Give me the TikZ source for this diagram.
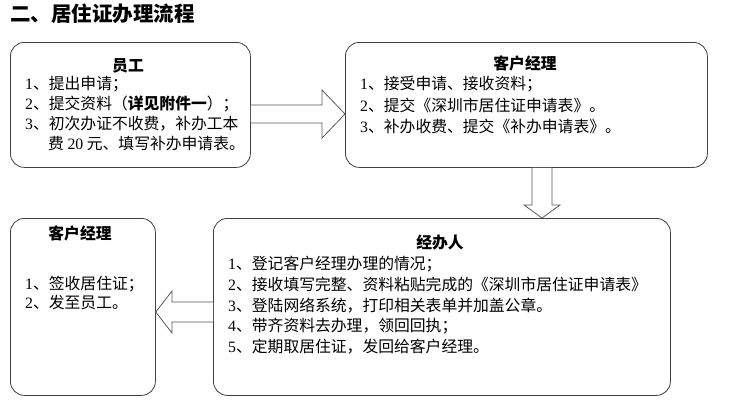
\documentclass[tikz,border=0pt]{standalone}
\usepackage{fontspec}
\setmainfont{Liberation Serif}
\newfontfamily\cjk{Noto Sans CJK SC}
\usetikzlibrary{calc}
\tikzset{
  box/.style={draw=black!75, line width=0.8pt, rounded corners=14pt},
  blockarrow/.style={draw=black!65, line width=0.8pt, fill=white, line join=miter},
  txt/.style={inner sep=0pt, anchor=base west, font=\fontsize{15.8}{18}\selectfont},
  head/.style={inner sep=0pt, anchor=base, font=\fontsize{15.8}{18}\selectfont\cjk\bfseries},
}
\begin{document}
\begin{tikzpicture}[x=1pt,y=-1pt]
\useasboundingbox (0,0) rectangle (736,413);
\node[inner sep=0pt, anchor=base west, font=\fontsize{20.5}{22}\selectfont\cjk\bfseries] (title) at (10,21) {二、居住证办理流程};
% boxes
\node[box, minimum width=240pt, minimum height=125pt, anchor=north west] (b1) at (10,42) {};
\node[box, minimum width=362pt, minimum height=125pt, anchor=north west] (b2) at (345,42) {};
\node[box, minimum width=457pt, minimum height=177pt, anchor=north west] (b3) at (213,218) {};
\node[box, minimum width=145pt, minimum height=177pt, anchor=north west] (b4) at (10,218) {};
% box 1 text
\node[head] (h1) at (128,71) {员工};
\node[txt] (l11) at (25,89) {1\cjk 、提出申请；};
\node[txt] (l12) at (25,109) {2\cjk 、提交资料（\textbf{详见附件一}）；};
\node[txt] (l13) at (25,129) {3\cjk 、初次办证不收费，补办工本};
\node[txt] (l14) at (48,149) {\cjk 费 {\rmfamily 20} 元、填写补办申请表。};
% box 2 text
\node[head] (h2) at (525,69) {客户经理};
\node[txt] (l21) at (360,89) {1\cjk 、接受申请、接收资料；};
\node[txt] (l22) at (360,111) {2\cjk 、提交《深圳市居住证申请表》。};
\node[txt] (l23) at (360,132) {3\cjk 、补办收费、提交《补办申请表》。};
% box 3 text
\node[head] (h3) at (440,248) {经办人};
\node[txt] (l31) at (228,269) {1\cjk 、登记客户经理办理的情况；};
\node[txt] (l32) at (228,290) {2\cjk 、接收填写完整、资料粘贴完成的《深圳市居住证申请表》};
\node[txt] (l33) at (228,311) {3\cjk 、登陆网络系统，打印相关表单并加盖公章。};
\node[txt] (l34) at (228,331) {4\cjk 、带齐资料去办理，领回回执；};
\node[txt] (l35) at (228,352) {5\cjk 、定期取居住证，发回给客户经理。};
% box 4 text
\node[head] (h4) at (80,239) {客户经理};
\node[txt] (l41) at (25,289) {1\cjk 、签收居住证；};
\node[txt] (l42) at (25,308) {2\cjk 、发至员工。};
% right arrow b1 -> b2
\draw[blockarrow] (b1.east |- 0,105) -- (322,105) -- (322,90) -- (b2.west |- 0,114) -- (322,138) -- (322,123) -- (b1.east |- 0,123);
% down arrow b2 -> b3
\draw[blockarrow] (b2.south -| 532,0) -- (532,205) -- (524,205) -- (b3.north -| 542,0) -- (560,205) -- (552,205) -- (b2.south -| 552,0);
% left arrow b3 -> b4
\draw[blockarrow] (b3.west |- 0,302) -- (172,302) -- (172,291) -- (b4.east |- 0,312) -- (172,333) -- (172,322) -- (b3.west |- 0,322);
\end{tikzpicture}
\end{document}
